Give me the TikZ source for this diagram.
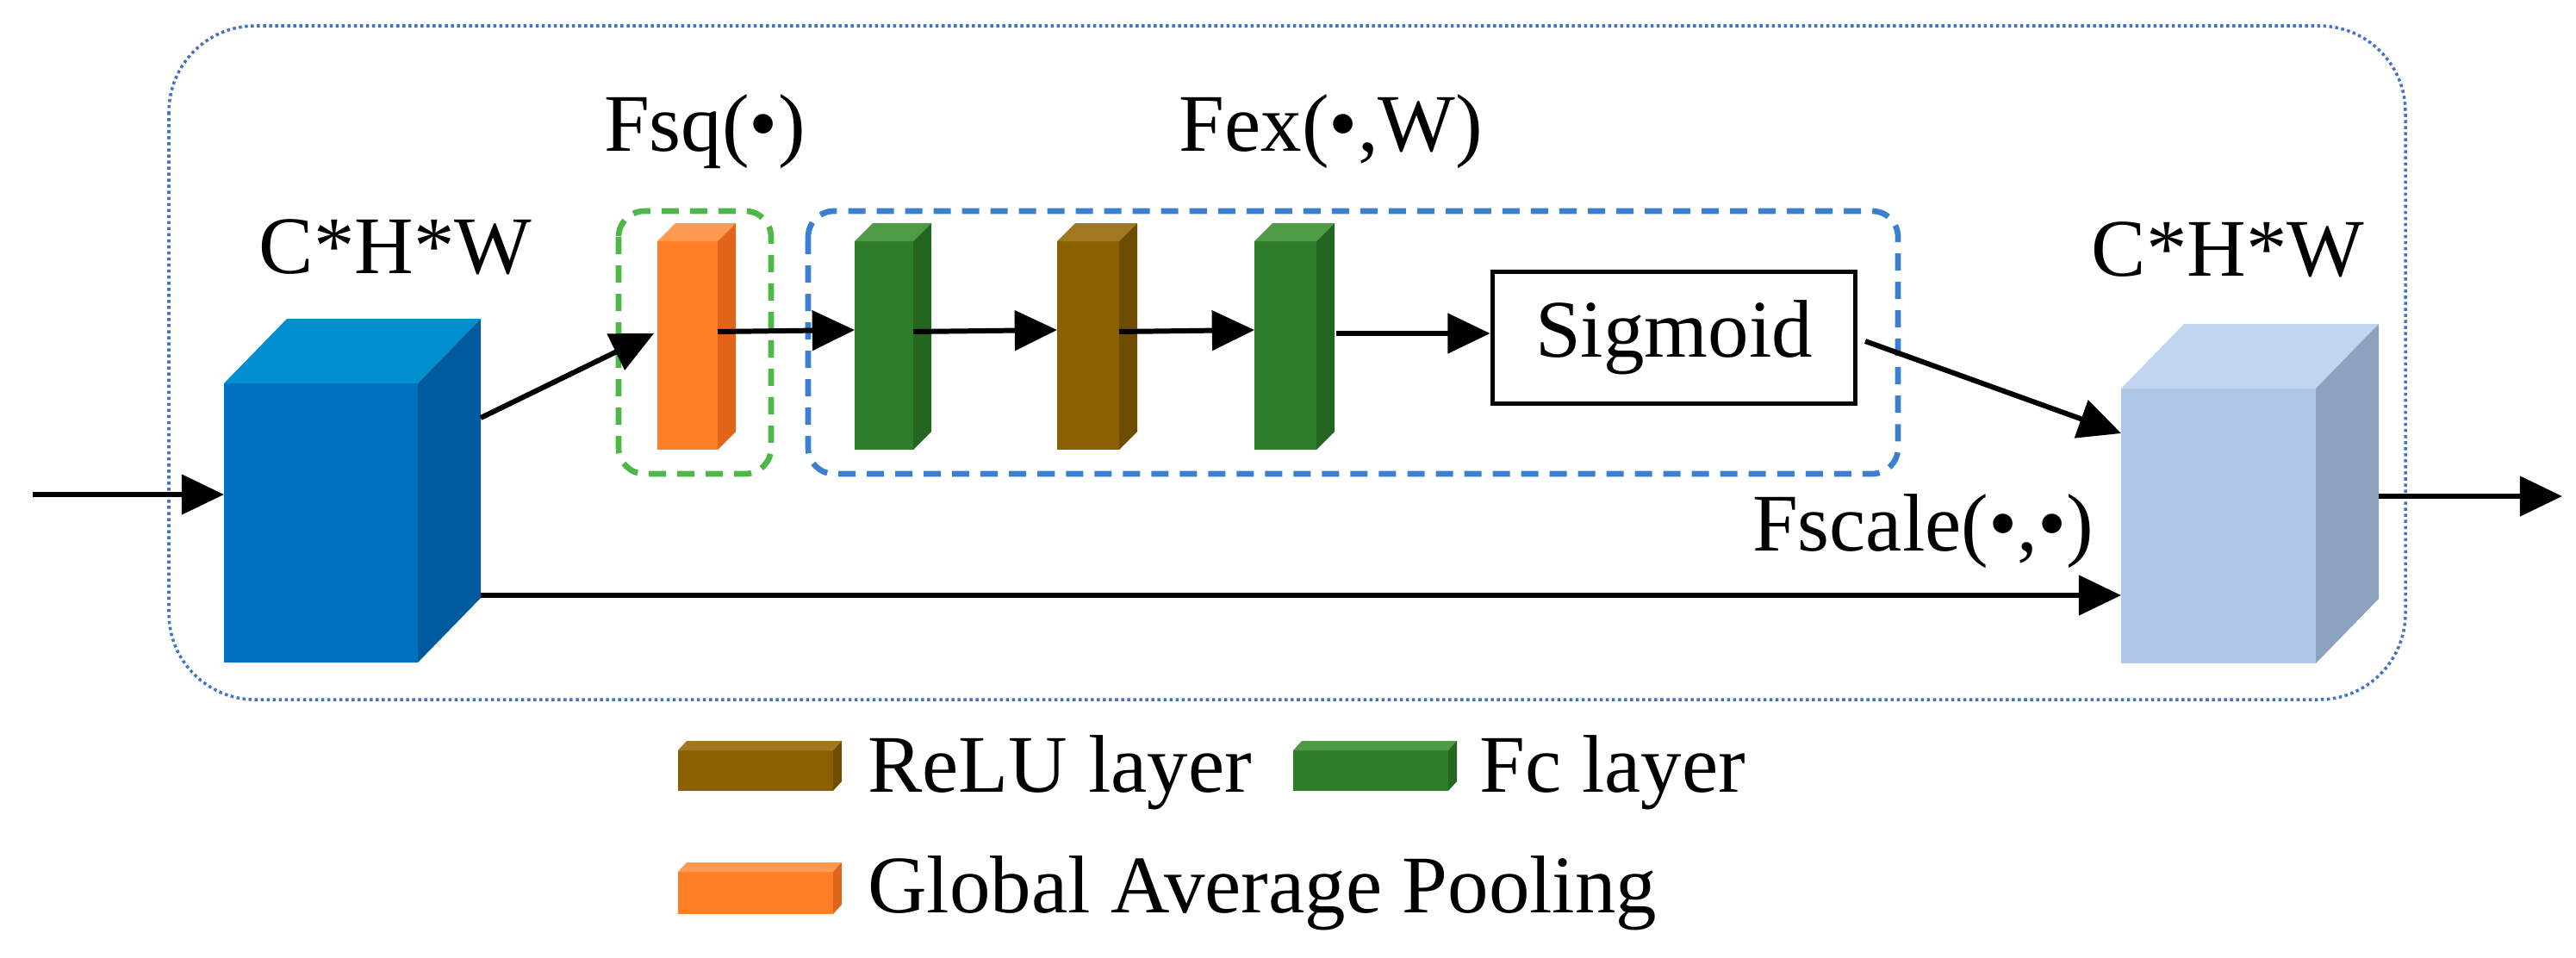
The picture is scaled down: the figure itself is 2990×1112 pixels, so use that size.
\documentclass[tikz,border=0pt]{standalone}
\usepackage{fontspec}
\setmainfont{Liberation Serif}
\usetikzlibrary{arrows.meta, positioning, calc}

\definecolor{bigfront}{HTML}{0070C0}
\definecolor{bigtop}{HTML}{0090D0}
\definecolor{bigside}{HTML}{005A9E}
\definecolor{outfront}{HTML}{AEC7E9}
\definecolor{outtop}{HTML}{BFD5F0}
\definecolor{outside}{HTML}{8BA3BF}
\definecolor{gapfront}{HTML}{FF7F27}
\definecolor{gaptop}{HTML}{FF9A50}
\definecolor{gapside}{HTML}{E0651A}
\definecolor{fcfront}{HTML}{2E7D2A}
\definecolor{fctop}{HTML}{4E9A45}
\definecolor{fcside}{HTML}{23661F}
\definecolor{relufront}{HTML}{8B6000}
\definecolor{relutop}{HTML}{A07820}
\definecolor{reluside}{HTML}{6E4C00}
\definecolor{sqgreen}{HTML}{4DB848}
\definecolor{exblue}{HTML}{3A7FD0}
\definecolor{frameblue}{HTML}{4472C4}

% cuboid: name, x, y, width, height, dx, dy, colour prefix
\newcommand{\cuboid}[8]{%
  \node[face, fill=#8front, minimum width={#4*0.01cm}, minimum height={#5*0.01cm}] (#1) at (#2,#3) {};
  \fill[#8top] (#1.north west) -- ++(#6,-#7) -- ++(#4,0) -- (#1.north east) -- cycle;
  \fill[#8side] (#1.north east) -- ++(#6,-#7) -- ++(0,#5) -- (#1.south east) -- cycle;
}

\begin{document}
\begin{tikzpicture}[
    x=0.01cm, y=-0.01cm,
    face/.style={rectangle, anchor=north west, inner sep=0pt, outer sep=0pt},
    label/.style={font=\fontsize{27}{32}\selectfont},
    legend/.style={font=\fontsize{27}{32}\selectfont, anchor=west},
    arrow/.style={-{Triangle[length=14pt, width=13pt]}, line width=1.7pt},
    dashbox/.style={rounded corners=0.3cm, line width=1.9pt, dash pattern=on 0.2cm off 0.13cm}
]
\useasboundingbox (0,0) rectangle (2990,1112);

% Outer frame
\draw[frameblue, line width=1pt, densely dotted, rounded corners=1cm] (196,30) rectangle (2792,812);

% Input and output tensors
\cuboid{big}{260}{445}{225}{324}{73}{75}{big}
\cuboid{out}{2462}{451}{226}{319}{73}{75}{out}
\node[label] (bigtxt) at (459,287) {C*H*W};
\node[label] (outtxt) at (2586,290) {C*H*W};

% Squeeze and excitation layers
\cuboid{gap}{763}{280}{70}{242}{21}{21}{gap}
\cuboid{fca}{992}{280}{68}{242}{21}{21}{fc}
\cuboid{relu}{1227}{280}{72}{242}{21}{21}{relu}
\cuboid{fcb}{1456}{280}{72}{242}{21}{21}{fc}
\node[draw, line width=1.6pt, minimum width=4.21cm, minimum height=1.53cm, label] (sig) at (1943,392) {Sigmoid};

% Dashed groups
\draw[dashbox, sqgreen] (718,245) rectangle (895,550);
\draw[dashbox, exblue] (938,245) rectangle (2203,550);
\node[label] (fsq) at (818,153) {Fsq(\textbullet)};
\node[label] (fex) at (1545,153) {Fex(\textbullet,W)};
\node[label] (fscale) at (2232,617) {Fscale(\textbullet,\textbullet)};

% Arrows
\coordinate (in) at (38,574);
\coordinate (outend) at (2974,576);
\coordinate (bigup) at (558,485);
\coordinate (biglow) at (558,691);
\coordinate (sigout) at (2165,396);
\draw[arrow] (in) -- (in -| big.west);
\draw[arrow] (bigup) -- (759,387);
\draw[arrow] (gap.east |- 0,385) -- (fca.west |- 0,383);
\draw[arrow] (fca.east |- 0,385) -- (relu.west |- 0,383);
\draw[arrow] (relu.east |- 0,385) -- (fcb.west |- 0,383);
\draw[arrow] (1551,387) -- (sig.west |- 0,387);
\draw[arrow] (sigout) -- (out.west |- 0,503);
\draw[arrow] (biglow) -- (biglow -| out.west);
\draw[arrow] (2761,576) -- (outend);

% Legend
\cuboid{lrelu}{787}{871}{180}{47}{10}{11}{relu}
\cuboid{lfc}{1501}{871}{180}{47}{10}{11}{fc}
\cuboid{lgap}{787}{1012}{180}{49}{10}{11}{gap}
\node[legend] (trelu) at (995,897) {ReLU layer};
\node[legend] (tfc) at (1705,897) {Fc layer};
\node[legend] (tgap) at (995,1037) {Global Average Pooling};
\end{tikzpicture}
\end{document}
